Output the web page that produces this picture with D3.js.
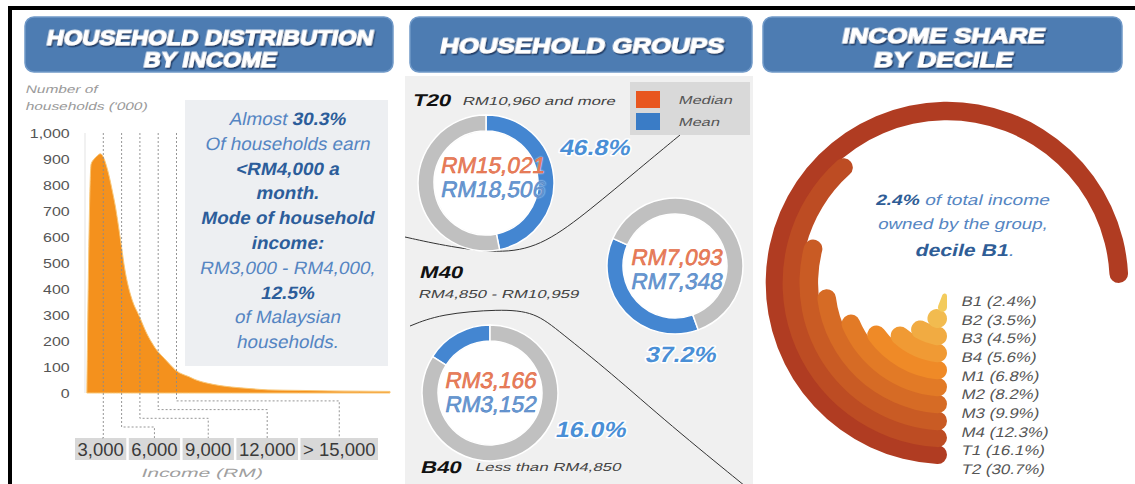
<!DOCTYPE html>
<html>
<head>
<meta charset="utf-8">
<script src="https://cdn.jsdelivr.net/npm/d3@7"></script>
<style>
  body { margin: 0; background: #fff; }
  svg { display: block; font-family: "Liberation Sans", Arial, sans-serif; }
</style>
</head>
<body>
<svg id="chart" width="1135" height="484">
  <defs>
    <filter id="hshadow" x="-5%" y="-30%" width="110%" height="160%">
      <feDropShadow dx="1.6" dy="1.6" stdDeviation="0.6" flood-color="#1d3a63" flood-opacity="0.95"/>
    </filter>
  </defs>
</svg>
<script>
// ---- Data ----
// household distribution by monthly income (RM), households in '000
const incomeRM    = [300, 1000, 1500, 2000, 2500, 3000, 3500, 4000, 4500, 5000, 5500, 6000, 6500, 7000, 7500, 8000, 8500, 9000, 9500, 10000, 10500, 11000, 11500, 12000, 13000, 14000, 15000, 16000, 17000, 18000, 20000, 22000, 24000, 27000, 30000, 35000, 40000, 45000, 50000];
const householdsK = [0, 880, 900, 912, 920, 908, 875, 830, 775, 715, 640, 560, 480, 420, 375, 340, 315, 290, 262, 235, 212, 192, 173, 158, 133, 108, 85, 72, 63, 52, 38, 29, 23, 17, 12, 10, 8, 7, 6];
const yTicks = d3.range(0, 1001, 100);
const incomeMarks  = [3000, 6000, 9000, 12000, 15000];
const incomeLabels = ["3,000", "6,000", "9,000", "12,000", "> 15,000"];

// household groups
const groupNames  = ["T20", "M40", "B40"];
const groupRanges = ["RM10,960 and more", "RM4,850 - RM10,959", "Less than RM4,850"];
const groupMedian = ["RM15,021", "RM7,093", "RM3,166"];
const groupMean   = ["RM18,506", "RM7,348", "RM3,152"];
const groupShare  = [46.8, 37.2, 16.0];

// income share by decile
const deciles     = ["B1", "B2", "B3", "B4", "M1", "M2", "M3", "M4", "T1", "T2"];
const decileShare = [2.4, 3.5, 4.5, 5.6, 6.8, 8.2, 9.9, 12.3, 16.1, 30.7];

const svg = d3.select("#chart");
const SKEW = -11;

// text helper: slanted by default (skew), sx stretches horizontally
function txt(g, x, y, s, o = {}) {
  const slant = o.italic === false ? "" : ` skewX(${SKEW})`;
  const t = g.append("text")
    .attr("transform", `translate(${x},${y}) scale(${o.sx || 1},1)${slant}`)
    .attr("text-anchor", o.anchor || "start")
    .attr("dy", o.dy || null)
    .style("font-size", (o.size || 12) + "px")
    .style("font-weight", o.bold ? "bold" : "normal")
    .attr("fill", o.fill || "#555")
    .text(s);
  if (o.halo) {
    t.attr("stroke", o.halo).attr("stroke-width", o.haloW || 3)
      .attr("stroke-linejoin", "round").attr("paint-order", "stroke");
  }
  return t;
}

function rich(g, x, y, parts, o) {
  const t = txt(g, x, y, "", o);
  parts.forEach(([s, b]) => {
    t.append("tspan")
      .style("font-weight", b ? "bold" : "normal")
      .attr("fill", b ? o.boldFill : o.fill)
      .text(s);
  });
  return t;
}

// Panel backgrounds and frame
svg.append("rect").attr("x", 405).attr("y", 76).attr("width", 348).attr("height", 408).attr("fill", "#f0f0f0");
svg.append("rect").attr("x", 8).attr("y", 6).attr("width", 1127).attr("height", 4).attr("fill", "#000");
svg.append("rect").attr("x", 8).attr("y", 6).attr("width", 4).attr("height", 478).attr("fill", "#000");

// Headers
function header(x, w, lines) {
  svg.append("rect").attr("x", x).attr("y", 17).attr("width", w).attr("height", 55)
    .attr("rx", 9).attr("fill", "#4d7cb2").attr("stroke", "#7099c8").attr("stroke-width", 1.5);
  lines.forEach(([s, by, len]) => {
    svg.append("text")
      .attr("transform", `translate(${x + w / 2},${by}) skewX(${SKEW})`)
      .attr("text-anchor", "middle")
      .attr("textLength", len).attr("lengthAdjust", "spacingAndGlyphs")
      .style("font-size", "21px").style("font-weight", "bold")
      .attr("fill", "#fff").attr("stroke", "#fff").attr("stroke-width", 1.1)
      .attr("filter", "url(#hshadow)")
      .text(s);
  });
}
header(25, 368, [["HOUSEHOLD DISTRIBUTION", 45, 327], ["BY INCOME", 67, 133]]);
header(410, 342, [["HOUSEHOLD GROUPS", 53, 284]]);
header(763, 359, [["INCOME SHARE", 43, 203], ["BY DECILE", 67, 139]]);

// ---- Panel 1: household distribution ----
const p1 = svg.append("g");
const x1 = d3.scaleLinear().domain([0, 50000]).range([85, 390]);
const y1 = d3.scaleLinear().domain([0, 1000]).range([393, 133]);

txt(p1, 25, 93, "Number of", { size: 11, sx: 1.4, fill: "#9a9a9a" });
txt(p1, 25, 110, "households ('000)", { size: 11, sx: 1.4, fill: "#9a9a9a" });

const yAxis = p1.append("g")
  .attr("transform", "translate(75,0)")
  .call(d3.axisLeft(y1).tickValues(yTicks).tickFormat(d3.format(",")).tickSize(0).tickPadding(4));
yAxis.select(".domain").remove();
yAxis.selectAll("text")
  .attr("dy", "0.35em")
  .attr("transform", "scale(1.33,1)")
  .style("font-size", "12px").style("font-family", "inherit").attr("fill", "#555");

p1.append("line").attr("x1", x1(0)).attr("x2", x1(0)).attr("y1", y1(1000)).attr("y2", y1(0))
  .attr("stroke", "#e3e3e3");

const series = incomeRM.map((v, i) => [v, householdsK[i]]);
p1.append("path")
  .datum(series)
  .attr("d", d3.area().x(d => x1(d[0])).y0(y1(0)).y1(d => y1(d[1])).curve(d3.curveMonotoneX))
  .attr("fill", "#f4911d").attr("stroke", "#f9c777").attr("stroke-width", 1);

// info box
p1.append("rect").attr("x", 185).attr("y", 100).attr("width", 203).attr("height", 266).attr("fill", "#edeff2");
const infoLines = [
  [["Almost ", 0], ["30.3%", 1]],
  [["Of households earn", 0]],
  [["<RM4,000 a", 1]],
  [["month.", 1]],
  [["Mode of household", 1]],
  [["income:", 1]],
  [["RM3,000 - RM4,000,", 0]],
  [["12.5%", 1]],
  [["of Malaysian", 0]],
  [["households.", 0]]
];
infoLines.forEach((parts, i) => {
  rich(p1, 287, 125 + i * 24.8, parts,
    { size: 18, sx: 1.05, anchor: "middle", fill: "#5585c2", boldFill: "#2c5d9a" });
});

// income tick boxes with elbow connectors
const boxTop = 438;
let cursor = 75;
const boxes = incomeLabels.map(s => {
  const t = p1.append("text").style("font-size", "18.5px").attr("fill", "#3a3a3a").text(s);
  const w = t.node().getComputedTextLength() + 5;
  const b = { s, t, x: cursor, w };
  cursor += w + 2.5;
  return b;
});
boxes.forEach(b => {
  p1.insert("rect", "text").attr("x", b.x).attr("y", boxTop).attr("width", b.w).attr("height", 22).attr("fill", "#d8d8d8");
  b.t.attr("x", b.x + b.w / 2).attr("y", boxTop + 18).attr("text-anchor", "middle");
});
incomeMarks.forEach((v, i) => {
  const elbow = i === 0 ? boxTop : 427 - (i - 1) * 8.7;
  const cx = boxes[i].x + boxes[i].w / 2;
  p1.append("path")
    .attr("d", `M${x1(v)},${y1(1000)}V${elbow}H${cx}V${boxTop}`)
    .attr("fill", "none").attr("stroke", "#8a8a8a").attr("stroke-width", 0.9)
    .attr("stroke-dasharray", "2,2");
});
txt(p1, 201, 477, "Income (RM)", { size: 12, sx: 1.75, anchor: "middle", fill: "#a0a0a0" });

// ---- Panel 2: household groups ----
const p2 = svg.append("g");
const connector = d3.line().curve(d3.curveBasis);
p2.append("path")
  .attr("d", connector([[405, 237], [450, 247], [505, 254], [545, 244], [590, 210], [640, 168], [680, 135]]))
  .attr("fill", "none").attr("stroke", "#333").attr("stroke-width", 1);
p2.append("path")
  .attr("d", connector([[410, 326], [440, 314], [500, 309], [535, 312], [560, 332], [610, 372], [670, 425], [745, 486]]))
  .attr("fill", "none").attr("stroke", "#333").attr("stroke-width", 1);

// legend
p2.append("rect").attr("x", 630).attr("y", 82).attr("width", 120).attr("height", 53).attr("fill", "#d9d9d9");
[["Median", "#e8561f"], ["Mean", "#3a7cc6"]].forEach(([s, c], i) => {
  p2.append("rect").attr("x", 636).attr("y", 91 + i * 22).attr("width", 24).attr("height", 17).attr("fill", c);
  txt(p2, 678, 104 + i * 22, s, { size: 11.5, sx: 1.43, fill: "#555" });
});

const groupLayout = {
  T20: { cx: 486, cy: 183, start: 0,     tdx: 6, medY: 173, pct: [594, 155], title: [412, 106], range: [462, 105] },
  M40: { cx: 675, cy: 266, start: 160,   tdx: 1, medY: 265, pct: [680, 362], title: [419, 278], range: [418, 298] },
  B40: { cx: 490, cy: 393, start: 302.4, tdx: 0, medY: 388, pct: [590, 437], title: [420, 473], range: [475, 471] }
};
const ringArc = d3.arc().innerRadius(52).outerRadius(68);

groupNames.forEach((name, i) => {
  const L = groupLayout[name];
  const a0 = L.start * Math.PI / 180;
  const pie = d3.pie().sort(null).startAngle(a0).endAngle(a0 + 2 * Math.PI);
  const g = p2.append("g").attr("transform", `translate(${L.cx},${L.cy})`);
  g.selectAll("path")
    .data(pie([groupShare[i], 100 - groupShare[i]]))
    .join("path")
    .attr("d", ringArc)
    .attr("fill", (d, j) => j === 0 ? "#4486d1" : "#c0c0c0")
    .attr("stroke", "#fff").attr("stroke-width", 1.5);
  g.append("circle").attr("r", 51.5).attr("fill", "#fff");

  txt(p2, L.cx + L.tdx, L.medY, groupMedian[i],
    { size: 22.5, anchor: "middle", fill: "#e0582c", halo: "#fff", haloW: 2.5 })
    .attr("stroke", "#e0582c").attr("stroke-width", 0.5).attr("paint-order", null)
    .style("text-shadow", "0 0 2px #fff");
  txt(p2, L.cx + L.tdx, L.medY + 24, groupMean[i],
    { size: 22.5, anchor: "middle", fill: "#3b78c2" })
    .attr("stroke", "#3b78c2").attr("stroke-width", 0.5)
    .style("text-shadow", "0 0 2px #fff");
  txt(p2, L.pct[0], L.pct[1], groupShare[i].toFixed(1) + "%",
    { size: 22, bold: true, sx: 1.13, anchor: "middle", fill: "#4a8fd6", halo: "#fff", haloW: 3 });
  txt(p2, L.title[0], L.title[1], name, { size: 17, bold: true, sx: 1.3, fill: "#111" });
  txt(p2, L.range[0], L.range[1], groupRanges[i], { size: 11.5, sx: 1.46, fill: "#444" });
});

// ---- Panel 3: income share by decile ----
const p3 = svg.append("g").attr("transform", "translate(947,283)");
const ang = d3.scaleLinear().domain([0, 30.7]).range([0, 1.5 * Math.PI]);
const rad = d3.scalePoint().domain(deciles).range([20, 172]);
const col = d3.scaleLinear().domain([0, 4, 9]).range(["#f3cb5c", "#ef8a27", "#b03c22"]);
const band = 9.3;
const decArc = d3.arc()
  .innerRadius(d => rad(d.k) - band)
  .outerRadius(d => rad(d.k) + band)
  .startAngle(Math.PI)
  .endAngle(d => Math.PI + ang(d.v))
  .cornerRadius(band);

const decData = deciles.map((k, i) => ({ k, v: decileShare[i], i }));
p3.selectAll("path")
  .data(decData.slice().reverse())
  .join("path")
  .attr("d", decArc)
  .attr("fill", d => col(d.i));

const labelY = d3.scalePoint().domain(deciles).range([301, 469]);
decData.forEach(d => {
  txt(svg, 962, labelY(d.k), `${d.k} (${d.v}%)`, { size: 14, sx: 1.2, dy: "0.35em", fill: "#555" });
});

rich(svg, 962, 205, [["2.4%", 1], [" of total income", 0]],
  { size: 15, sx: 1.28, anchor: "middle", fill: "#5585c2", boldFill: "#2f5d96" });
txt(svg, 962, 229, "owned by the group,", { size: 15, sx: 1.25, anchor: "middle", fill: "#5585c2" });
rich(svg, 964, 256, [["decile B1", 1], [".", 0]],
  { size: 17, sx: 1.25, anchor: "middle", fill: "#5585c2", boldFill: "#2f5d96" });
</script>
</body>
</html>
